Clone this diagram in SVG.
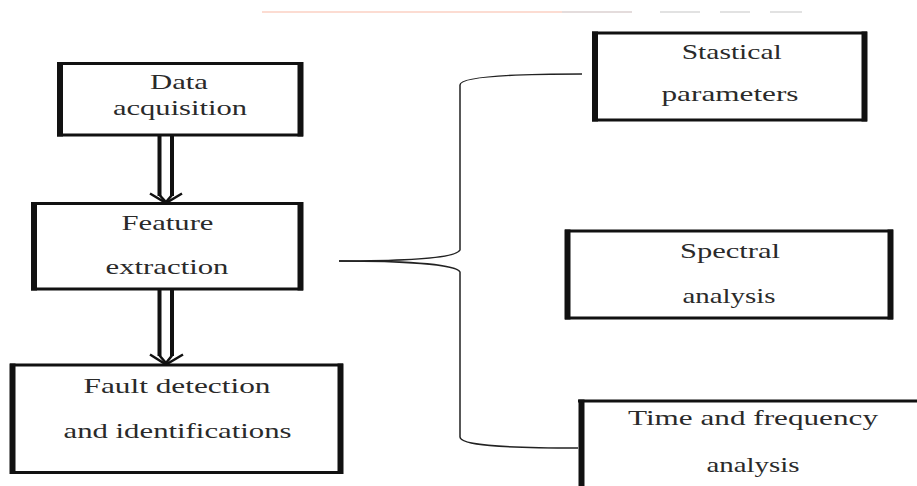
<svg xmlns="http://www.w3.org/2000/svg" width="917" height="486" viewBox="0 0 917 486">
<style>
.h{stroke:#111;stroke-width:3;fill:none}
.v{stroke:#111;stroke-width:6;fill:none}
.t{font-family:"Liberation Serif","DejaVu Serif","Times New Roman",serif;font-size:21px;fill:#2a2a2a;text-anchor:middle}
.c{stroke:#222;stroke-width:1.5;fill:none}
.a{stroke:#111;stroke-width:4;fill:none}
.ah{stroke:#111;stroke-width:2.5;fill:none;stroke-linejoin:miter}
</style>
<rect width="917" height="486" fill="#fff"/>
<g id="artifacts">
<rect x="262" y="11" width="300" height="2" fill="#fcdcd2"/>
<rect x="562" y="11" width="70" height="2" fill="#e4dcdc"/>
<rect x="660" y="11" width="40" height="2" fill="#e2e2e2"/>
<rect x="720" y="11" width="30" height="2" fill="#e2e2e2"/>
<rect x="770" y="11" width="32" height="2" fill="#e2e2e2"/>
</g>
<g id="n1">
<path class="h" d="M57,63.5H303M57,135H303"/>
<path class="v" d="M60,62V136.5M300.5,62V136.5"/>
<text class="t" x="179" y="89" textLength="58" lengthAdjust="spacingAndGlyphs">Data</text>
<text class="t" x="180" y="115" textLength="134" lengthAdjust="spacingAndGlyphs">acquisition</text>
</g>
<g id="n2">
<path class="h" d="M31,203.5H303M31,289H303"/>
<path class="v" d="M34,202V290.5M300.5,202V290.5"/>
<text class="t" x="167.5" y="230" textLength="92" lengthAdjust="spacingAndGlyphs">Feature</text>
<text class="t" x="167" y="274" textLength="123" lengthAdjust="spacingAndGlyphs">extraction</text>
</g>
<g id="n3">
<path class="h" d="M10,365H343M10,472.5H343"/>
<path class="v" d="M12.5,363.5V474M340.5,363.5V474"/>
<text class="t" x="177" y="393" textLength="187" lengthAdjust="spacingAndGlyphs">Fault detection</text>
<text class="t" x="177.5" y="438" textLength="228" lengthAdjust="spacingAndGlyphs">and identifications</text>
</g>
<g id="n4">
<path class="h" d="M592,33H867M592,120H867"/>
<path class="v" d="M595,31.5V121.5M864.5,31.5V121.5"/>
<text class="t" x="731.7" y="59" textLength="100" lengthAdjust="spacingAndGlyphs">Stastical</text>
<text class="t" x="730" y="101" textLength="137" lengthAdjust="spacingAndGlyphs">parameters</text>
</g>
<g id="n5">
<path class="h" d="M565,231H893M565,318H893"/>
<path class="v" d="M567.5,229.5V319.5M890.5,229.5V319.5"/>
<text class="t" x="730" y="258" textLength="100" lengthAdjust="spacingAndGlyphs">Spectral</text>
<text class="t" x="729" y="303" textLength="93" lengthAdjust="spacingAndGlyphs">analysis</text>
</g>
<g id="n6">
<path class="h" d="M578,401H917"/>
<path class="v" d="M581.5,399.5V486"/>
<text class="t" x="753" y="425" textLength="250" lengthAdjust="spacingAndGlyphs">Time and frequency</text>
<text class="t" x="753" y="471.5" textLength="93" lengthAdjust="spacingAndGlyphs">analysis</text>
</g>
<g id="connectors">
<path class="a" d="M159.5,136V196M172,136V196"/>
<path class="ah" d="M150,193.5L166,203L182,193.5"/>
<path class="ah" d="M159.5,195L166,202L172,195"/>
<path class="a" d="M159.5,290V356M172,290V356"/>
<path class="ah" d="M150,354.5L166,364.5L183,354.5"/>
<path class="ah" d="M159.5,355.5L166,363L172,355.5"/>
<path class="c" d="M339,261C400,261 456,259 460,250V85C460,78 500,74 582,74"/>
<path class="c" d="M339,261C400,261 456,264 460,272V437C460,445 500,448 578,448"/>
</g>
</svg>
